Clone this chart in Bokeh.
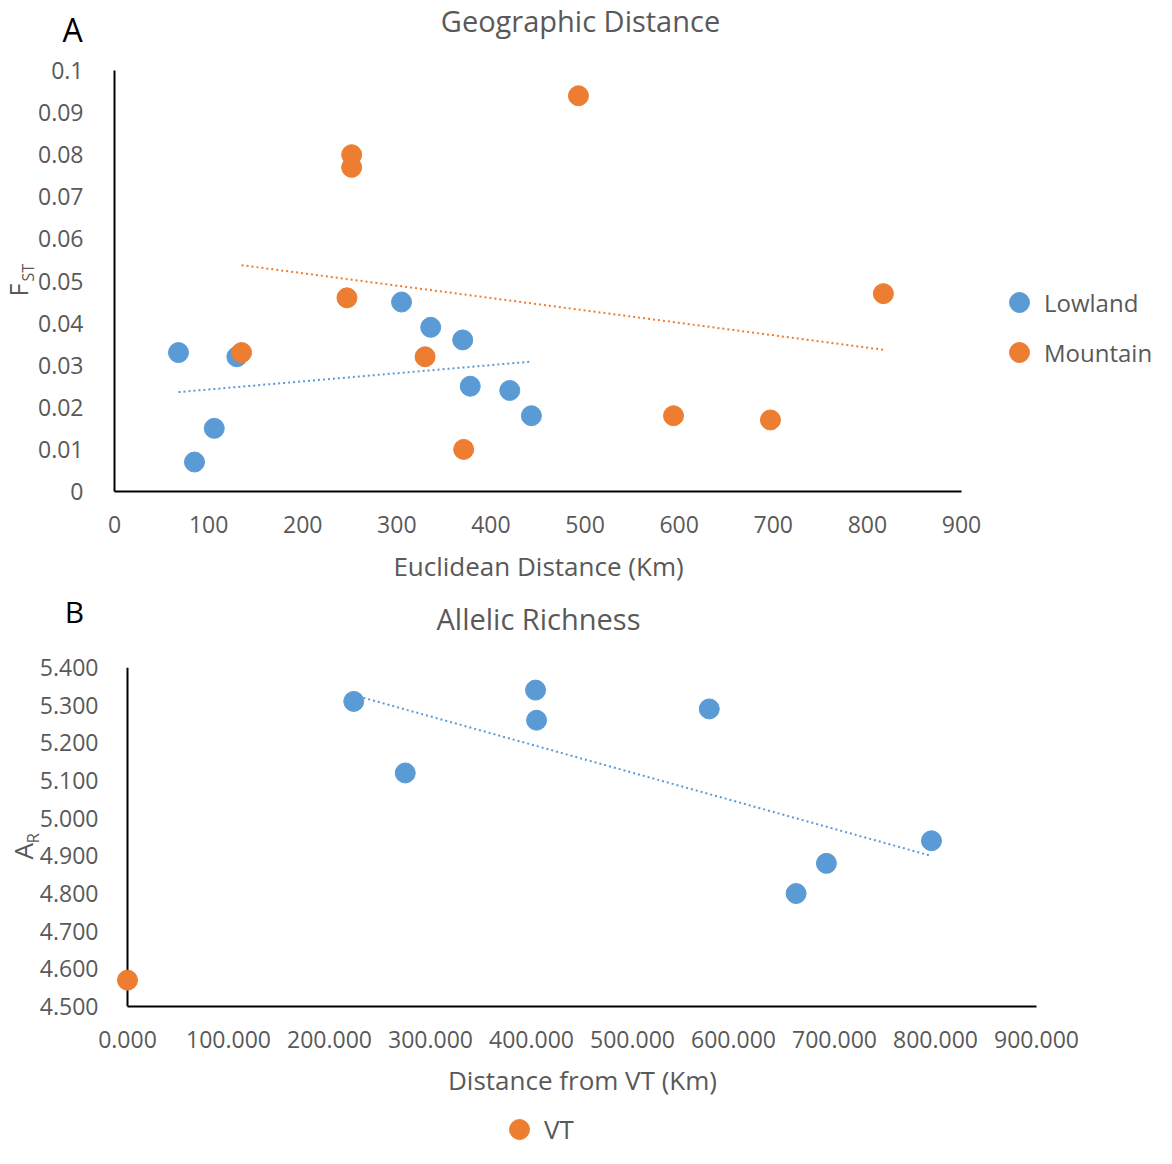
import numpy as np
from bokeh.plotting import figure
from bokeh.layouts import column
from bokeh.models import (Range1d, FixedTicker, Label, Legend, LegendItem, Span,
                          NumeralTickFormatter)
from bokeh.embed import file_html
from bokeh.resources import INLINE

# ---------------- Panel A: Geographic Distance ----------------
lowland_dist = [68, 85, 106, 130, 305, 336, 370, 378, 420, 443]
lowland_fst = [0.033, 0.007, 0.015, 0.032, 0.045, 0.039, 0.036, 0.025, 0.024, 0.018]
mountain_dist = [135, 247, 252, 252, 330, 371, 493, 594, 697, 817]
mountain_fst = [0.033, 0.046, 0.080, 0.077, 0.032, 0.010, 0.094, 0.018, 0.017, 0.047]

a_x_ticks = [0, 100, 200, 300, 400, 500, 600, 700, 800, 900]
a_y_ticks = [0, 0.01, 0.02, 0.03, 0.04, 0.05, 0.06, 0.07, 0.08, 0.09, 0.1]
a_y_tick_labels = ["0", "0.01", "0.02", "0.03", "0.04", "0.05", "0.06", "0.07", "0.08", "0.09", "0.1"]

# ---------------- Panel B: Allelic Richness ----------------
site_dist = [224, 275, 404, 405, 576, 662, 692, 796]
site_ar = [5.31, 5.12, 5.34, 5.26, 5.29, 4.80, 4.88, 4.94]
vt_dist = [0.0]
vt_ar = [4.57]

b_x_ticks = [0, 100, 200, 300, 400, 500, 600, 700, 800, 900]
b_y_ticks = [4.5, 4.6, 4.7, 4.8, 4.9, 5.0, 5.1, 5.2, 5.3, 5.4]

BLUE = "#5B9BD5"
ORANGE = "#ED7D31"
TXT = "#595959"
FONT = "Open Sans"
W = 1156
LEFT = 114


def trend(x, y):
    k, b = np.polyfit(np.asarray(x, float), np.asarray(y, float), 1)
    xs = np.array([min(x), max(x)], float)
    return xs, k * xs + b


def style_axes(p):
    p.xgrid.visible = False
    p.ygrid.visible = False
    p.outline_line_color = None
    for ax in (p.xaxis[0], p.yaxis[0]):
        ax.axis_line_color = "black"
        ax.axis_line_width = 2
        ax.major_tick_line_color = None
        ax.minor_tick_line_color = None
        ax.major_label_text_font = FONT
        ax.major_label_text_font_size = "23px"
        ax.major_label_text_color = TXT


def make_label(text, x, y, size, color=TXT, angle=0.0, align="center"):
    return Label(x=x, y=y, x_units="screen", y_units="screen", text=text,
                 text_font=FONT, text_font_size=size, text_color=color,
                 angle=angle, text_align=align, text_baseline="alphabetic")


def make_legend(items, location, size):
    return Legend(items=items, location=location, orientation="vertical", padding=0, margin=0,
                  spacing=0, glyph_width=50, glyph_height=50, label_standoff=0,
                  label_text_font=FONT, label_text_font_size=size, label_text_color=TXT,
                  border_line_color=None, background_fill_alpha=0, inactive_fill_alpha=0)


# ================= Figure A =================
a_plot_w = 847          # pixel length of the 0..900 stretch of the x axis
a_x_end = a_x_ticks[-1] * (W - LEFT) / a_plot_w   # frame runs on to the right edge (room for legend)
pA = figure(width=W, height=590, output_backend="svg", toolbar_location=None,
            x_range=Range1d(a_x_ticks[0], a_x_end), y_range=Range1d(a_y_ticks[0], a_y_ticks[-1]),
            min_border_left=LEFT, min_border_right=0, min_border_top=70, min_border_bottom=99)
style_axes(pA)
pA.xaxis.bounds = (a_x_ticks[0], a_x_ticks[-1])
pA.xaxis.ticker = FixedTicker(ticks=a_x_ticks)
pA.yaxis.ticker = FixedTicker(ticks=a_y_ticks)
pA.yaxis.major_label_overrides = dict(zip(a_y_ticks, a_y_tick_labels))
pA.xaxis.major_label_standoff = 18
pA.yaxis.major_label_standoff = 25

txl, tyl = trend(lowland_dist, lowland_fst)
txm, tym = trend(mountain_dist, mountain_fst)
pA.line(txl, tyl, line_color=BLUE, line_width=2, line_dash="2 3")
pA.line(txm, tym, line_color=ORANGE, line_width=2, line_dash="2 3")
rL = pA.scatter(lowland_dist, lowland_fst, size=20, fill_color=BLUE, line_color=BLUE)
rM = pA.scatter(mountain_dist, mountain_fst, size=20, fill_color=ORANGE, line_color=ORANGE)

pA.add_layout(make_legend([LegendItem(label="Lowland", renderers=[rL]),
                           LegendItem(label="Mountain", renderers=[rM])], (880, 114), "24px"))
pA.add_layout(make_label("Geographic Distance", 466, 50, "29px"), "above")
pA.add_layout(make_label("ST", -87, -250, "16px", angle=np.pi / 2, align="left"), "above")
pA.add_layout(make_label("F", -97, -283, "25px", angle=np.pi / 2, align="left"), "above")
pA.add_layout(make_label("A", 57, 462, "32px", color="black"), "left")
pA.add_layout(make_label("Euclidean Distance (Km)", 424, 6, "26px"), "below")

# ================= Figure B =================
pad_px = 13             # gap between frame edge and x = 0, so the VT point is not cut
b_scale = 909 / (b_x_ticks[-1] - b_x_ticks[0])     # px per km
b_plot_w = W - LEFT
b_x_start = b_x_ticks[0] - pad_px / b_scale
b_x_end = b_x_start + b_plot_w / b_scale
pB = figure(width=W, height=514, output_backend="svg", toolbar_location=None,
            x_range=Range1d(b_x_start, b_x_end),
            y_range=Range1d(b_y_ticks[0], b_y_ticks[-1]),
            min_border_left=LEFT, min_border_right=0, min_border_top=77, min_border_bottom=98)
style_axes(pB)
pB.yaxis.axis_line_color = None
pB.xaxis.bounds = (b_x_ticks[0], b_x_ticks[-1])
pB.add_layout(Span(location=0, dimension="height", line_color="black", line_width=2, level="underlay"))
pB.xaxis.ticker = FixedTicker(ticks=b_x_ticks)
pB.yaxis.ticker = FixedTicker(ticks=b_y_ticks)
pB.xaxis.formatter = NumeralTickFormatter(format="0.000")
pB.yaxis.formatter = NumeralTickFormatter(format="0.000")
pB.xaxis.major_label_standoff = 18
pB.yaxis.major_label_standoff = 10

tbx, tby = trend(site_dist, site_ar)
pB.line(tbx, tby, line_color=BLUE, line_width=2, line_dash="2 3")
pB.scatter(site_dist, site_ar, size=20, fill_color=BLUE, line_color=BLUE)
pB.scatter(vt_dist, vt_ar, size=20, fill_color=ORANGE, line_color=ORANGE)

pB.add_layout(make_label("Allelic Richness", 424, 49, "29px"), "above")
pB.add_layout(make_label("A", -92, -231, "26px", angle=np.pi / 2, align="left"), "above")
pB.add_layout(make_label("R", -82, -231, "17px", angle=np.pi / 2, align="left"), "above")
pB.add_layout(make_label("B", 57, 395, "30px", color="black"), "left")
pB.add_layout(make_label("Distance from VT (Km)", 468, 7, "26px"), "below")

# ================= legend strip under panel B =================
pL = figure(width=W, height=44, output_backend="svg", toolbar_location=None,
            x_axis_location=None, y_axis_location=None,
            min_border_left=LEFT, min_border_right=0, min_border_top=0, min_border_bottom=0)
pL.outline_line_color = None
pL.xgrid.visible = False
pL.ygrid.visible = False
rVT_key = pL.scatter(vt_dist, vt_ar, size=20, fill_color=ORANGE, line_color=ORANGE, visible=False)
pL.add_layout(make_legend([LegendItem(label="VT", renderers=[rVT_key])], (380, -6), "26px"))

layout = column(pA, pB, pL, spacing=0)
open("out.html", "w").write(file_html(layout, INLINE))
